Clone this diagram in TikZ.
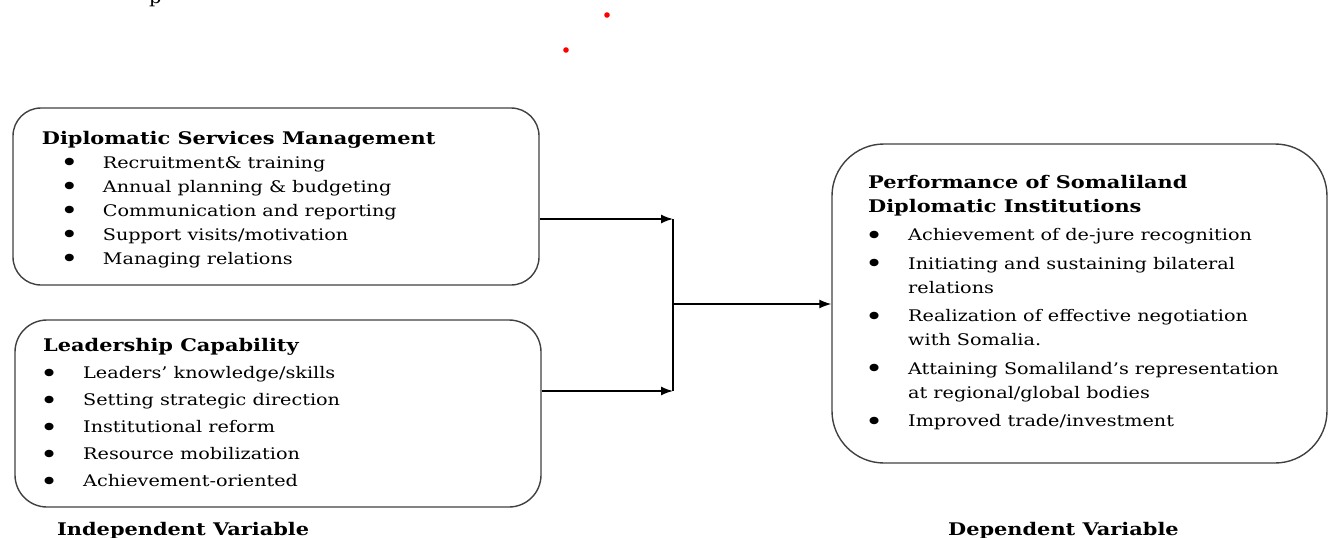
\documentclass[tikz,border=0pt]{standalone}
\usepackage{fontspec}
\setmainfont[FakeStretch=1.2]{DejaVu Serif}
\usetikzlibrary{arrows.meta}
\newcommand{\boxhead}{\fontsize{17.4}{17.4}\selectfont\bfseries}
\newcommand{\blt}{\hspace*{-3pt}\raisebox{-3.3pt}{\scalebox{1.6}{\textbullet}}}
\begin{document}
\begin{tikzpicture}[x=1pt,y=-1pt,
	box/.style={draw=black!75, line width=1.4pt, rounded corners=#1, inner sep=0pt},
	txt/.style={inner sep=0pt, anchor=north west, font=\fontsize{16}{#1}\selectfont},
	arr/.style={line width=1.4pt, -{Latex[length=12pt,width=9pt]}}]
		\useasboundingbox (0,0) rectangle (1334,538);
		
		% cut-off line and red marks
		\node[inner sep=0pt, anchor=base west, font=\fontsize{16}{16}\selectfont] (frag) at (149,4) {p};
		\fill[red] (607,15) circle (2.8pt);
		\fill[red] (566,50) circle (2.8pt);
		
		% boxes
		\node[box=28pt, minimum width=526pt, minimum height=177pt] (dsm) at (276,196.5) {};
		\node[box=32pt, minimum width=526pt, minimum height=187pt] (lead) at (278,413.5) {};
		\node[box=52pt, minimum width=495pt, minimum height=319pt] (perf) at (1079.5,303.5) {};
		
		% box texts
		\node[txt=24] (dsmtxt) at (41.7,127.2) {\begin{tabular}{@{}p{61pt}@{}l@{}}
			\multicolumn{2}{@{}l@{}}{\boxhead Diplomatic Services Management}\\
			\hspace*{21.5pt}\blt & Recruitment\& training\\
			\hspace*{21.5pt}\blt & Annual planning \& budgeting\\
			\hspace*{21.5pt}\blt & Communication and reporting\\
			\hspace*{21.5pt}\blt & Support visits/motivation\\
			\hspace*{21.5pt}\blt & Managing relations
		\end{tabular}};
		
		\node[txt=27] (leadtxt) at (43,332.8) {\begin{tabular}{@{}p{40pt}@{}l@{}}
			\multicolumn{2}{@{}l@{}}{\boxhead Leadership Capability}\\
			\blt & Leaders' knowledge/skills\\
			\blt & Setting strategic direction\\
			\blt & Institutional reform\\
			\blt & Resource mobilization\\
			\blt & Achievement-oriented
		\end{tabular}};
		
		\node[txt=24] (perftxt) at (868,171.2) {\begin{tabular}{@{}p{40pt}@{}l@{}}
			\multicolumn{2}{@{}l@{}}{\boxhead Performance of Somaliland}\\
			\multicolumn{2}{@{}l@{}}{\boxhead Diplomatic Institutions}\\[4.5pt]
			\blt & Achievement of de-jure recognition\\[4.5pt]
			\blt & Initiating and sustaining bilateral\\
			& relations\\[4.5pt]
			\blt & Realization of effective negotiation\\
			& with Somalia.\\[4.5pt]
			\blt & Attaining Somaliland's representation\\
			& at regional/global bodies\\[4.5pt]
			\blt & Improved trade/investment
		\end{tabular}};
		
		% connectors
		\coordinate (jtop) at (673,219);
		\coordinate (jbot) at (673,391);
		\coordinate (jmid) at (673,304);
		\draw[arr] (dsm.east |- jtop) -- (jtop);
		\draw[arr] (lead.east |- jbot) -- (jbot);
		\draw[line width=1.4pt] (jtop) -- (jbot);
		\draw[arr] (jmid) -- (perf.west |- jmid);
		
		% labels
		\node[inner sep=0pt, anchor=base west, font=\boxhead] (indep) at (57,535) {Independent Variable};
		\node[inner sep=0pt, anchor=base west, font=\boxhead] (dep) at (948,535) {Dependent Variable};
	\end{tikzpicture}
\end{document}
